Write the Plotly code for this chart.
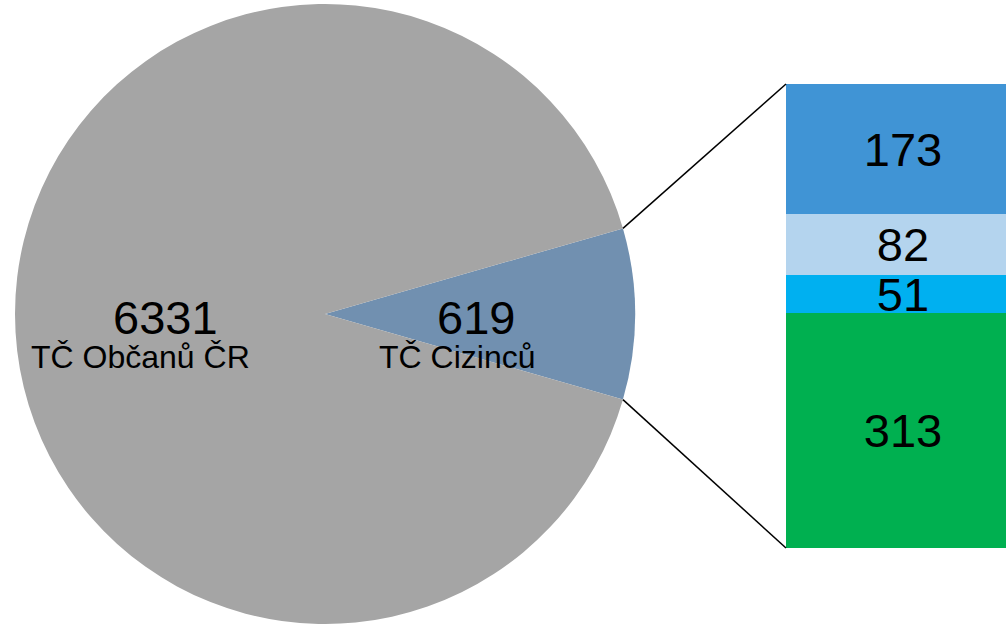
import math
import plotly.graph_objects as go

# ---- data ----
pie_labels = ["TČ Cizinců", "TČ Občanů ČR"]
pie_values = [619, 6331]
pie_colors = ["#7190B0", "#A5A5A5"]

bar_values = [313, 51, 82, 173]          # bottom -> top
bar_colors = ["#00B050", "#00B0F0", "#B4D4EE", "#4094D5"]

W, H = 1006, 624
FONT = "Liberation Sans, Arial, sans-serif"
NUM_SIZE = 47
LAB_SIZE = 32

# ---- layout geometry (pixels) ----
pie_cx, pie_cy, pie_r = 325, 314, 310
bar_left_px, bar_top_px, bar_bot_px = 786, 84, 548

total = sum(pie_values)
slice_deg = 360.0 * pie_values[0] / total
rotation = 90 - slice_deg / 2.0

fig = go.Figure()

fig.add_trace(go.Pie(
    labels=pie_labels, values=pie_values, sort=False, direction="clockwise",
    rotation=rotation, marker=dict(colors=pie_colors, line=dict(width=0)),
    textinfo="none", hoverinfo="skip", showlegend=False,
    domain=dict(x=[(pie_cx - pie_r) / W, (pie_cx + pie_r) / W],
                y=[1 - (pie_cy + pie_r) / H, 1 - (pie_cy - pie_r) / H]),
))

for v, c in zip(bar_values, bar_colors):
    fig.add_trace(go.Bar(
        x=[0], y=[v], width=1, marker=dict(color=c, line=dict(width=0)),
        text=[str(v)], textposition="inside", textangle=0,
        insidetextanchor="middle", constraintext="none",
        insidetextfont=dict(family=FONT, size=NUM_SIZE, color="black"),
        hoverinfo="skip", showlegend=False,
    ))

bar_total = sum(bar_values)
y_dom = [1 - bar_bot_px / H, 1 - bar_top_px / H]
x_dom = [bar_left_px / W, 1.0]

# connector lines from slice edges to bar corners
half = math.radians(slice_deg / 2.0)
shapes = []
for sgn, corner_px in [(1, bar_top_px), (-1, bar_bot_px)]:
    ex = pie_cx + pie_r * math.cos(half)
    ey = pie_cy - sgn * pie_r * math.sin(half)
    shapes.append(dict(type="line", xref="paper", yref="paper",
                       x0=ex / W, y0=1 - ey / H,
                       x1=bar_left_px / W, y1=1 - corner_px / H,
                       line=dict(color="black", width=1.5)))

# pie labels
annos = []
label_spots = [(pie_values[1], pie_labels[1], pie_cx - 160, pie_cx - 185),
               (pie_values[0], pie_labels[0], pie_cx + 151, pie_cx + 132)]
for val, lab, nx, lx in label_spots:
    annos.append(dict(text=str(val), x=nx / W, y=1 - 317 / H, xref="paper", yref="paper",
                      showarrow=False, xanchor="center", yanchor="middle",
                      font=dict(family=FONT, size=NUM_SIZE, color="black")))
    annos.append(dict(text=lab, x=lx / W, y=1 - 357 / H, xref="paper", yref="paper",
                      showarrow=False, xanchor="center", yanchor="middle",
                      font=dict(family=FONT, size=LAB_SIZE, color="black")))

fig.update_layout(
    width=W, height=H, margin=dict(l=0, r=0, t=0, b=0),
    paper_bgcolor="white", plot_bgcolor="white",
    barmode="stack", bargap=0,
    xaxis=dict(domain=x_dom, range=[-0.5, 0.44], visible=False, fixedrange=True),
    yaxis=dict(domain=y_dom, range=[0, bar_total], visible=False, fixedrange=True),
    shapes=shapes, annotations=annos, font=dict(family=FONT),
)

fig.write_html("out.html", config={"displayModeBar": False},
               post_script="document.body.style.margin='0';document.body.style.overflow='hidden';")
